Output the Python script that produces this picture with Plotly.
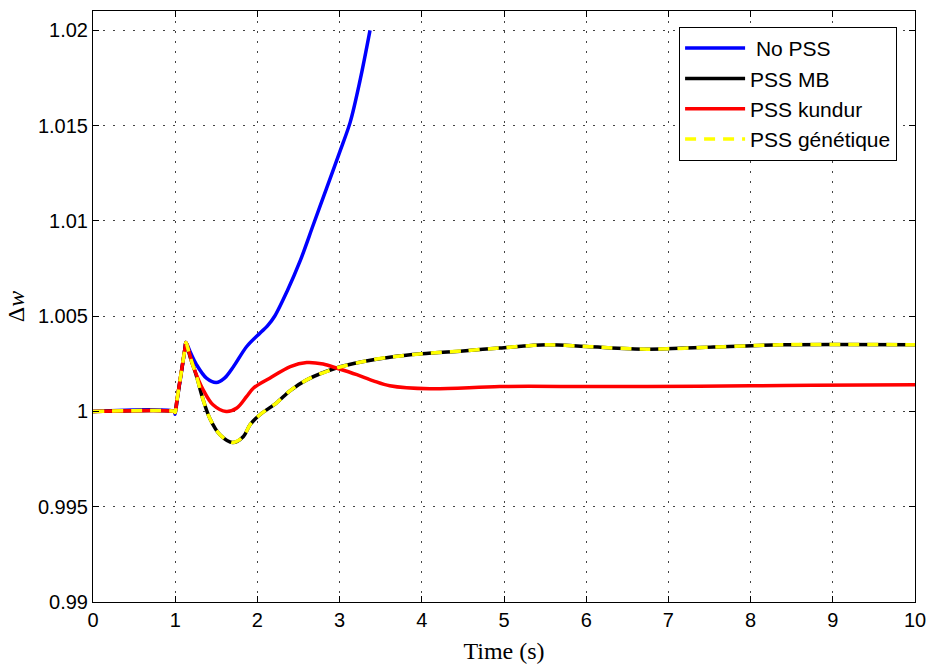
import plotly.graph_objects as go

# Rotor speed deviation after a disturbance at t = 1 s, for four stabiliser configurations
t_no_pss = [0, 0.99, 1.0, 1.02, 1.07, 1.12, 1.13, 1.19, 1.26, 1.38, 1.50, 1.60, 1.71, 1.87,
            2.03, 2.12, 2.21, 2.36, 2.52, 2.68, 2.84, 3.0, 3.13, 3.25, 3.37]
w_no_pss = [1.0, 1.0, 0.99985, 1.0005, 1.0019, 1.00334, 1.00362, 1.00305, 1.00245, 1.00175,
            1.00152, 1.00175, 1.00236, 1.00341, 1.00411, 1.00448, 1.0050, 1.0063, 1.0079,
            1.0098, 1.0117, 1.0136, 1.0152, 1.0174, 1.0200]

t_pss_mb = [0, 0.99, 1.0, 1.02, 1.07, 1.12, 1.13, 1.18, 1.26, 1.34, 1.42, 1.545, 1.70,
            1.83, 1.91, 2.03, 2.23, 2.40, 2.60, 2.96, 3.29, 3.61, 4.0, 4.5, 4.95, 5.52,
            6.0, 6.74, 7.55, 8.36, 9.0, 10.0]
w_pss_mb = [1.0, 1.0, 0.99995, 1.00055, 1.00195, 1.00334, 1.00362, 1.00289, 1.00184,
            1.00061, 0.99965, 0.99878, 0.99837, 0.99869, 0.9993, 0.99983, 1.00044, 1.0011,
            1.00166, 1.00228, 1.00262, 1.00285, 1.00303, 1.00318, 1.00333, 1.0035,
            1.00341, 1.00327, 1.00338, 1.0035, 1.00352, 1.0035]

t_pss_kundur = [0, 0.99, 1.0, 1.02, 1.07, 1.12, 1.13, 1.22, 1.34, 1.46, 1.62, 1.75, 1.87,
                1.95, 2.15, 2.40, 2.60, 2.80, 2.96, 3.21, 3.41, 3.61, 4.1, 4.95, 6.0, 6.74,
                8.0, 8.76, 10.0]
w_pss_kundur = [1.0, 1.0, 0.99995, 1.00055, 1.00195, 1.00334, 1.00362, 1.00236, 1.00114,
                1.00035, 1.0, 1.00018, 1.00079, 1.00122, 1.00175, 1.00236, 1.00257,
                1.00249, 1.00228, 1.00193, 1.00161, 1.00135, 1.00119, 1.00131, 1.00131,
                1.00131, 1.00135, 1.00138, 1.0014]

t_pss_gen = list(t_pss_mb)
w_pss_gen = [1.0, 1.0, 0.99995, 1.00055, 1.00195, 1.00334, 1.00362, 1.00289, 1.00184,
             1.00061, 0.99965, 0.99878, 0.99837, 0.99869, 0.9993, 0.99983, 1.00044, 1.0011,
             1.00166, 1.00228, 1.00262, 1.00285, 1.00303, 1.00318, 1.00333, 1.0035,
             1.00341, 1.00327, 1.00338, 1.0035, 1.00352, 1.0035]

x_ticks = [0, 1, 2, 3, 4, 5, 6, 7, 8, 9, 10]
y_ticks = [0.99, 0.995, 1.0, 1.005, 1.01, 1.015, 1.02]
y_tick_text = ["0.99", "0.995", "1", "1.005", "1.01", "1.015", "1.02"]

series = [
    (" No PSS", t_no_pss, w_no_pss, "#0000ff", "solid"),
    ("PSS MB", t_pss_mb, w_pss_mb, "#000000", "solid"),
    ("PSS kundur", t_pss_kundur, w_pss_kundur, "#ff0000", "solid"),
    ("PSS génétique", t_pss_gen, w_pss_gen, "#ffff00", "11px,8px"),
]

fig = go.Figure()
for name, t, w, color, dash in series:
    fig.add_trace(go.Scatter(
        x=t, y=w, name=name, mode="lines",
        line=dict(color=color, width=3.5, dash=dash, shape="spline", smoothing=0.9),
    ))

axis_common = dict(
    showline=True, linecolor="black", linewidth=1, mirror="ticks",
    ticks="inside", ticklen=6, tickcolor="black", tickwidth=1,
    showgrid=True, gridcolor="#444444", gridwidth=1, griddash="2px,8px",
    zeroline=False, automargin=False,
    tickfont=dict(family="Liberation Sans, Arial, sans-serif", size=20, color="black"),
)

fig.update_xaxes(
    range=[0, 10], tickvals=x_ticks,
    title=dict(text="Time (s)", font=dict(family="Liberation Serif, serif", size=24, color="black"),
               standoff=12),
    **axis_common,
)
fig.update_yaxes(
    range=[0.99, 1.02102], tickvals=y_ticks, ticktext=y_tick_text,
    title=dict(text="Δ<i>w</i>", font=dict(family="Liberation Serif, serif", size=24, color="black"),
               standoff=6),
    **axis_common,
)

fig.update_layout(
    width=930, height=668,
    margin=dict(l=93, r=15, t=11, b=66),
    paper_bgcolor="white", plot_bgcolor="white",
    showlegend=True,
    legend=dict(
        x=0.713, y=0.973, xanchor="left", yanchor="top",
        bgcolor="white", bordercolor="black", borderwidth=1,
        font=dict(family="Liberation Sans, Arial, sans-serif", size=21, color="black"),
        itemwidth=60,
    ),
)

fig.write_html("out.html")
